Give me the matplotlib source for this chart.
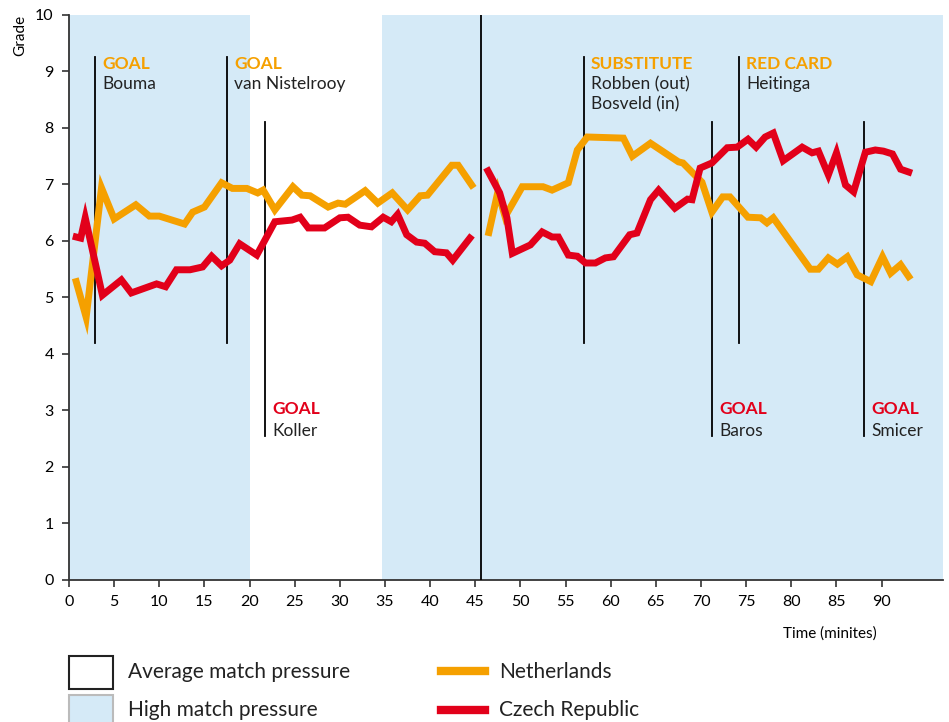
import matplotlib.pyplot as plt
import numpy as np
from matplotlib.patches import Rectangle
from matplotlib.lines import Line2D

plt.rcParams['font.family'] = ['Lato', 'DejaVu Sans']

# Netherlands grades (two halves, gap at half time)
nl_min = [0.8, 1.9, 3.6, 5.0, 7.4, 8.9, 10.0, 12.8, 13.7, 15.0, 16.9, 18.1, 19.7, 20.9, 21.5,
          22.8, 24.8, 25.8, 26.7, 28.7, 29.8, 30.6, 32.8, 34.2, 35.8, 37.5, 38.9, 39.7,
          42.4, 43.1, 44.6, np.nan,
          46.5, 47.5, 48.3, 50.2, 52.5, 53.5, 55.3, 56.3, 57.4, 61.4, 62.4, 64.4, 67.5, 68.0,
          70.1, 71.2, 72.4, 73.2, 75.2, 76.6, 77.3, 78.0, 82.1, 83.0, 84.1, 85.1, 86.2,
          87.3, 88.8, 90.1, 91.0, 92.1, 93.0]
nl_grade = [5.28, 4.65, 6.94, 6.39, 6.64, 6.44, 6.44, 6.30, 6.51, 6.60, 7.03, 6.93, 6.93, 6.85, 6.90,
            6.55, 6.96, 6.81, 6.80, 6.60, 6.67, 6.65, 6.89, 6.67, 6.85, 6.55, 6.80, 6.81,
            7.34, 7.34, 6.99, np.nan,
            6.15, 6.87, 6.43, 6.96, 6.96, 6.90, 7.03, 7.61, 7.84, 7.82, 7.50, 7.73, 7.40, 7.38,
            7.04, 6.51, 6.78, 6.78, 6.42, 6.41, 6.32, 6.41, 5.50, 5.50, 5.70, 5.59, 5.72,
            5.40, 5.28, 5.72, 5.43, 5.58, 5.37]

# Czech Republic grades
cz_min = [0.8, 1.3, 1.8, 3.7, 5.8, 6.9, 9.7, 10.7, 11.9, 13.4, 14.8, 15.8, 16.9, 17.8, 18.9,
          20.8, 22.8, 24.7, 25.6, 26.5, 28.3, 30.0, 30.9, 32.2, 33.5, 34.8, 35.7, 36.4,
          37.4, 38.5, 39.4, 40.5, 41.8, 42.5, 44.4, np.nan,
          46.4, 47.7, 48.5, 49.1, 51.1, 52.4, 53.5, 54.2, 55.3, 56.3, 57.2, 58.3, 59.4, 60.3,
          62.1, 62.9, 64.4, 65.3, 67.1, 68.5, 69.0, 69.9, 71.2, 72.9, 74.0, 75.2, 76.1, 77.1,
          78.0, 79.1, 81.2, 82.3, 83.0, 84.1, 85.0, 86.0, 86.9, 88.2, 89.3, 90.2, 91.2,
          92.1, 93.0]
cz_grade = [6.07, 6.05, 6.41, 5.04, 5.31, 5.08, 5.24, 5.19, 5.49, 5.49, 5.54, 5.73, 5.56, 5.66, 5.95,
            5.75, 6.34, 6.37, 6.42, 6.23, 6.23, 6.41, 6.42, 6.28, 6.25, 6.42, 6.34, 6.47,
            6.11, 5.98, 5.96, 5.81, 5.79, 5.66, 6.05, np.nan,
            7.24, 6.85, 6.41, 5.78, 5.93, 6.16, 6.07, 6.07, 5.75, 5.73, 5.61, 5.61, 5.70, 5.72,
            6.11, 6.14, 6.73, 6.90, 6.58, 6.74, 6.73, 7.29, 7.38, 7.65, 7.66, 7.80, 7.66, 7.84,
            7.91, 7.42, 7.66, 7.56, 7.59, 7.17, 7.56, 6.99, 6.87, 7.57, 7.61, 7.59, 7.54,
            7.27, 7.22]

# high pressure periods
high_periods = [(0, 20), (34.7, 97)]
half_time = 45.6

# events: minute, headline, names, team
ev_min = [2.9, 17.5, 21.7, 57.0, 71.2, 74.2, 88.1]
ev_head = ['GOAL', 'GOAL', 'GOAL', 'SUBSTITUTE', 'GOAL', 'RED CARD', 'GOAL']
ev_text = ['Bouma', 'van Nistelrooy', 'Koller', 'Robben (out)\nBosveld (in)', 'Baros', 'Heitinga', 'Smicer']
ev_team = ['nl', 'nl', 'cz', 'nl', 'cz', 'nl', 'cz']

orange = '#f5a000'
red = '#e2001a'
blue = '#d5eaf7'

fig = plt.figure(figsize=(9.49, 7.22), dpi=100)
ax = fig.add_axes([0.0727, 0.1967, 0.9210, 0.7826])

for a, b in high_periods:
    ax.axvspan(a, b, color=blue, lw=0, zorder=0)
ax.axvline(half_time, color='black', lw=1.3, zorder=3)

for m, h, t, team in zip(ev_min, ev_head, ev_text, ev_team):
    if team == 'nl':
        ax.plot([m, m], [4.2, 9.26], color='black', lw=1.3, zorder=3)
        ax.text(m + 0.8, 9.13, h, color=orange, fontsize=12.5, fontweight='bold', va='center')
        ax.text(m + 0.8, 8.92, t, color='#222222', fontsize=12.5, va='top', linespacing=1.3)
    else:
        ax.plot([m, m], [2.55, 8.1], color='black', lw=1.3, zorder=3)
        ax.text(m + 0.8, 3.03, h, color=red, fontsize=12.5, fontweight='bold', va='center')
        ax.text(m + 0.8, 2.64, t, color='#222222', fontsize=12.5, va='center')

ax.plot(nl_min, nl_grade, color=orange, lw=5, solid_joinstyle='miter', zorder=4)
ax.plot(cz_min, cz_grade, color=red, lw=5, solid_joinstyle='miter', zorder=4)

ax.set_xlim(0, 96.8)
ax.set_ylim(0, 10)
ax.set_xticks(np.arange(0, 91, 5))
ax.set_yticks(np.arange(0, 11, 1))
ax.tick_params(direction='out', length=5, width=1.2, color='#333333', labelsize=11.5, pad=6)
for s in ['top', 'right']:
    ax.spines[s].set_visible(False)
for s in ['left', 'bottom']:
    ax.spines[s].set_color('#333333')
    ax.spines[s].set_linewidth(1.3)

fig.text(0.0215, 0.979, 'Grade', rotation=90, ha='center', va='top', fontsize=11)
fig.text(0.924, 0.122, 'Time (minites)', ha='right', va='center', fontsize=11)

# legend
fig.add_artist(Rectangle((0.0727, 0.0457), 0.0464, 0.0457, transform=fig.transFigure,
                         facecolor='white', edgecolor='#222222', lw=1.5))
fig.add_artist(Rectangle((0.0727, -0.01), 0.0464, 0.048, transform=fig.transFigure,
                         facecolor=blue, edgecolor='#bbbbbb', lw=1.5))
fig.text(0.135, 0.069, 'Average match pressure', fontsize=15, va='center', color='#222222')
fig.text(0.135, 0.017, 'High match pressure', fontsize=15, va='center', color='#222222')
fig.add_artist(Line2D([0.465, 0.511], [0.071, 0.071], transform=fig.transFigure, color=orange, lw=6))
fig.add_artist(Line2D([0.465, 0.511], [0.017, 0.017], transform=fig.transFigure, color=red, lw=6))
fig.text(0.526, 0.069, 'Netherlands', fontsize=15, va='center', color='#222222')
fig.text(0.526, 0.017, 'Czech Republic', fontsize=15, va='center', color='#222222')

fig.savefig('out.png', dpi=100)
